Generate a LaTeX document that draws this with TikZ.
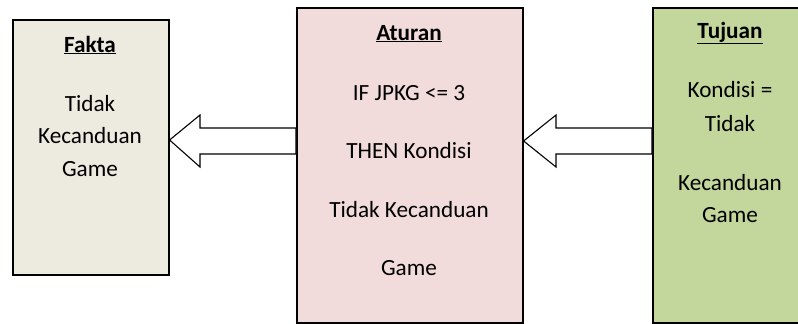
\documentclass[tikz,border=0pt]{standalone}
\usepackage{fontspec}
\setmainfont{Carlito}
\definecolor{faktafill}{HTML}{EDEBE0}
\definecolor{aturanfill}{HTML}{F2DCDB}
\definecolor{tujuanfill}{HTML}{C3D69B}
\tikzset{
  box/.style={draw=black, line width=1.6pt},
  txt/.style={anchor=base, inner sep=0pt, font=\fontsize{23.2}{28}\selectfont},
  ttl/.style={anchor=base, inner sep=0pt, font=\fontsize{23.2}{28}\selectfont\bfseries},
  bigarrow/.style={draw=black, fill=white, line width=1.1pt, line join=miter}
}
\newcommand{\ul}[1]{\underline{#1}}
\begin{document}
\begin{tikzpicture}[x=1pt,y=-1pt]
\useasboundingbox (0,0) rectangle (798,324);
\clip (0,0) rectangle (798,324);
% boxes
\node[box, fill=faktafill, minimum width=156pt, minimum height=255pt, anchor=north west, inner sep=0pt] (fakta) at (12,19) {};
\node[box, fill=aturanfill, minimum width=226pt, minimum height=315pt, anchor=north west, inner sep=0pt] (aturan) at (296,7) {};
\node[box, fill=tujuanfill, minimum width=156pt, minimum height=315pt, anchor=north west, inner sep=0pt] (tujuan) at (652,7) {};
% arrows
\coordinate (a1tip) at (fakta.east |- 0,140);
\coordinate (a2tip) at (aturan.east |- 0,141);
\draw[bigarrow] (a1tip) -- (200,115) -- (200,128) -- (aturan.west |- 0,128) -- (aturan.west |- 0,154) -- (200,154) -- (200,167) -- cycle;
\draw[bigarrow] (a2tip) -- (556,115) -- (556,128) -- (tujuan.west |- 0,128) -- (tujuan.west |- 0,154) -- (556,154) -- (556,167) -- cycle;
% Fakta text
\node[ttl] (f0) at (90,52) {\ul{Fakta}};
\node[txt] (f1) at (90,111) {Tidak};
\node[txt] (f2) at (90,143) {Kecanduan};
\node[txt] (f3) at (90,176) {Game};
% Aturan text
\node[ttl] (r0) at (409,40) {\ul{Aturan}};
\node[txt] (r1) at (409,100) {IF JPKG <= 3};
\node[txt] (r2) at (409,158) {THEN Kondisi};
\node[txt] (r3) at (409,217) {Tidak Kecanduan};
\node[txt] (r4) at (409,275) {Game};
% Tujuan text
\node[ttl] (t0) at (730,38) {\ul{Tujuan}};
\node[txt] (t1) at (730,97) {Kondisi =};
\node[txt] (t2) at (730,131) {Tidak};
\node[txt] (t3) at (730,190) {Kecanduan};
\node[txt] (t4) at (730,222) {Game};
\end{tikzpicture}
\end{document}
